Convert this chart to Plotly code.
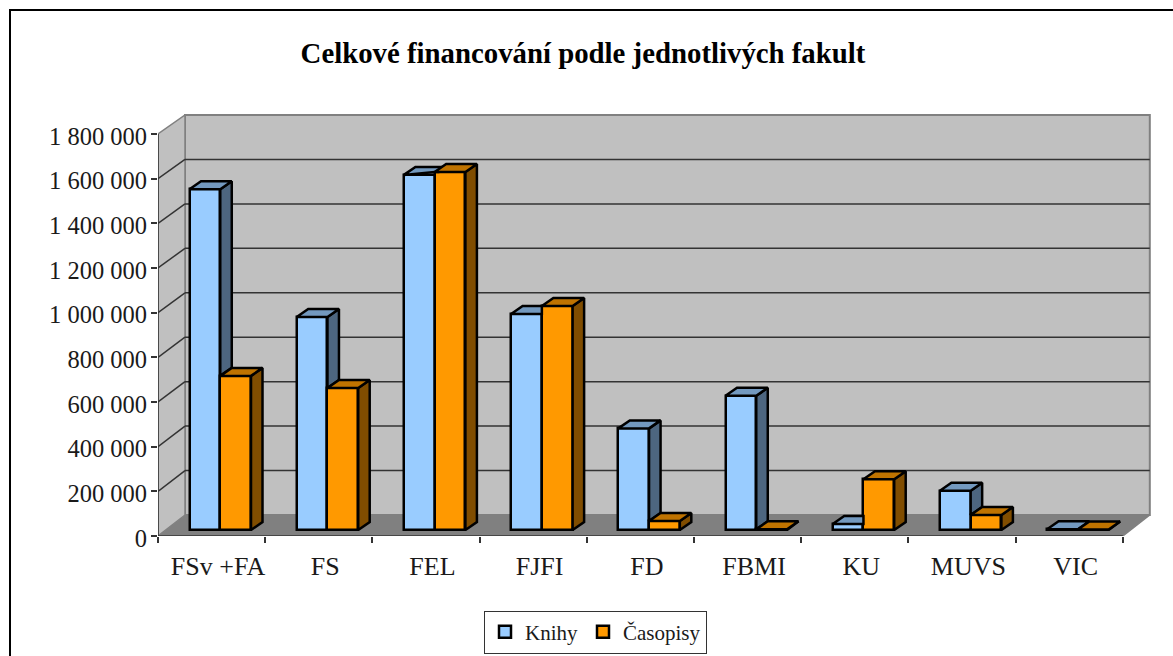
import plotly.graph_objects as go

categories = ["FSv +FA", "FS", "FEL", "FJFI", "FD", "FBMI", "KU", "MUVS", "VIC"]
knihy = [1526000, 954000, 1590000, 967000, 455000, 601000, 27000, 176000, 3000]
casopisy = [690000, 636000, 1603000, 1003000, 40000, 3000, 227000, 67000, 2000]
y_ticks = [0, 200000, 400000, 600000, 800000, 1000000, 1200000, 1400000, 1600000, 1800000]
y_tick_labels = ["0", "200 000", "400 000", "600 000", "800 000", "1 000 000",
                 "1 200 000", "1 400 000", "1 600 000", "1 800 000"]
title = "Celkové financování podle jednotlivých fakult"

FONT = "Liberation Serif"
W, H = 1173, 656
L, R, T, B = 158, 1152, 114, 536     # plot-area pixels
PX_X = 107.2                          # pixels per category
PX_Y = 400 / 1.8e6 * (402 / 400)      # pixels per unit
UX = 1 / PX_X
UY = 1 / PX_Y
xmax = (R - L) * UX
ymax = (B - T) * UY
N = len(categories)

# 3-D projection helpers (pixel depths converted into axis units)
wall_dx, wall_dy = 27 * UX, 21 * UY
wall_h = 400 * UY
bar_base = 6 * UY
bar_w = 30.75 * UX
off_a, off_b = 0.4374, 0.7243
dep_x, dep_y = 11.5 * UX, 8 * UY

BLUE, BLUE_TOP, BLUE_SIDE = "#99CCFF", "#7399BF", "#4D6680"
ORANGE, ORANGE_TOP, ORANGE_SIDE = "#FF9900", "#BF7300", "#804D00"
WALL, FLOOR, EDGE, GRID = "#C0C0C0", "#808080", "#808080", "#333333"
BAR_LINE = 2.5


def path(points):
    return "M" + " L".join(f"{x},{y}" for x, y in points) + " Z"


shapes = [
    dict(type="path", xref="x", yref="y", layer="below", fillcolor=FLOOR, line=dict(width=0),
         path=path([(0, 0), (N, 0), (N + wall_dx, wall_dy), (wall_dx, wall_dy)])),
    dict(type="path", xref="x", yref="y", layer="below", fillcolor=WALL, line=dict(color=EDGE, width=2),
         path=path([(wall_dx, wall_dy), (N + wall_dx, wall_dy), (N + wall_dx, wall_dy + wall_h), (wall_dx, wall_dy + wall_h)])),
    dict(type="path", xref="x", yref="y", layer="below", fillcolor=WALL, line=dict(color=EDGE, width=1.5),
         path=path([(0, 0), (wall_dx, wall_dy), (wall_dx, wall_dy + wall_h), (0, y_ticks[-1])])),
    dict(type="line", xref="x", yref="y", layer="below", line=dict(color=EDGE, width=1.5),
         x0=N, y0=0, x1=N + wall_dx, y1=wall_dy),
]
for v in y_ticks[1:-1]:
    back = wall_dy + v / y_ticks[-1] * wall_h
    shapes.append(dict(type="line", xref="x", yref="y", layer="below", line=dict(color=GRID, width=1.5),
                       x0=0, y0=v, x1=wall_dx, y1=back))
    shapes.append(dict(type="line", xref="x", yref="y", layer="below", line=dict(color=GRID, width=1.5),
                       x0=wall_dx, y0=back, x1=N + wall_dx, y1=back))
# outer chart frame, running off the bottom and right of the picture
fx = lambda px: (px - L) / (R - L)
fy = lambda px: (B - px) / (B - T)
shapes.append(dict(type="path", xref="paper", yref="paper", line=dict(color="#000000", width=2),
                   path=f"M{fx(10)},{fy(H + 5)} L{fx(10)},{fy(10)} L{fx(W + 5)},{fy(10)}"))


def poly_trace(polys, fill):
    xs, ys = [], []
    for p in polys:
        xs += [q[0] for q in p] + [p[0][0], None]
        ys += [q[1] for q in p] + [p[0][1], None]
    return go.Scatter(x=xs, y=ys, mode="lines", fill="toself", fillcolor=fill,
                      line=dict(color="#000000", width=BAR_LINE), showlegend=False, hoverinfo="skip")


blue_side, blue_top, orange_side, orange_top = [], [], [], []
for i in range(N):
    a0 = i + off_a - bar_w / 2
    am = a0 + bar_w
    b1 = am + bar_w
    h_a = knihy[i] + bar_base
    h_b = casopisy[i] + bar_base
    top_a = h_a + dep_y
    # blue side: only the part that shows above the orange bar
    if h_b < h_a:
        blue_side.append([(am, h_a), (am + dep_x, top_a), (am + dep_x, h_b + dep_y), (am, h_b)])
        blue_top.append([(a0, h_a), (a0 + dep_x, top_a), (am + dep_x, top_a), (am, h_a)])
    elif h_b >= top_a:
        blue_top.append([(a0, h_a), (a0 + dep_x, top_a), (am, top_a), (am, h_a)])
    else:
        cut = am + (h_b - h_a) / dep_y * dep_x
        blue_top.append([(a0, h_a), (a0 + dep_x, top_a), (am + dep_x, top_a), (cut, h_b), (am, h_b)])
    orange_top.append([(am, h_b), (am + dep_x, h_b + dep_y), (b1 + dep_x, h_b + dep_y), (b1, h_b)])
    orange_side.append([(b1, h_b), (b1 + dep_x, h_b + dep_y), (b1 + dep_x, bar_base + dep_y), (b1, bar_base)])

fig = go.Figure()
fig.add_trace(go.Bar(name="Knihy", x=[i + off_a for i in range(N)], y=knihy, base=bar_base, width=bar_w,
                     marker=dict(color=BLUE, line=dict(color="#000000", width=BAR_LINE)), hoverinfo="skip"))
fig.add_trace(go.Bar(name="Časopisy", x=[i + off_b for i in range(N)], y=casopisy, base=bar_base, width=bar_w,
                     marker=dict(color=ORANGE, line=dict(color="#000000", width=BAR_LINE)), hoverinfo="skip"))
fig.add_trace(poly_trace(blue_side, BLUE_SIDE))
fig.add_trace(poly_trace(blue_top, BLUE_TOP))
fig.add_trace(poly_trace(orange_side, ORANGE_SIDE))
fig.add_trace(poly_trace(orange_top, ORANGE_TOP))
# front axis lines
fig.add_trace(go.Scatter(x=[0, 0, N], y=[y_ticks[-1], 0, 0], mode="lines", cliponaxis=False,
                         line=dict(color="#333333", width=1.5), showlegend=False, hoverinfo="skip"))

fig.update_layout(
    width=W, height=H, autosize=False,
    margin=dict(l=L, r=W - R, t=T, b=H - B, pad=0, autoexpand=False),
    paper_bgcolor="#FFFFFF", plot_bgcolor="rgba(0,0,0,0)",
    barmode="overlay", bargap=0, shapes=shapes,
    font=dict(family=FONT, color="#1A1A1A"),
    title=dict(text=f"<b>{title}</b>", x=583 / W, y=1 - 53 / H, xanchor="center", yanchor="middle",
               font=dict(family=FONT, size=28.8, color="#000000")),
    xaxis=dict(range=[0, xmax], showgrid=False, zeroline=False, showline=False,
               tickmode="array", tickvals=[i + 0.56 for i in range(N)], ticktext=categories,
               ticks="", ticklen=0, ticklabelstandoff=12, tickfont=dict(family=FONT, size=26, color="#1A1A1A"),
               minor=dict(tickmode="array", tickvals=list(range(N + 1)), ticks="outside", ticklen=6,
                          tickwidth=1.5, tickcolor="#333333", showgrid=False)),
    yaxis=dict(range=[0, ymax], showgrid=False, zeroline=False, showline=False,
               tickmode="array", tickvals=y_ticks, ticktext=y_tick_labels,
               ticks="outside", ticklen=6, tickwidth=1.5, tickcolor="#333333",
               ticklabelstandoff=-1, ticklabelshift=2,
               tickfont=dict(family=FONT, size=24.5, color="#1A1A1A")),
    legend=dict(orientation="h", x=(595.5 - L) / (R - L), y=fy(632), xanchor="center", yanchor="middle",
                bordercolor="#333333", borderwidth=1, bgcolor="#FFFFFF", itemclick=False, itemdoubleclick=False,
                font=dict(family=FONT, size=21, color="#1A1A1A"), itemwidth=30, traceorder="normal"),
)
fig.write_html("out.html", post_script="document.body.style.margin='0';window.dispatchEvent(new Event('resize'));",
               config=dict(displayModeBar=False))
